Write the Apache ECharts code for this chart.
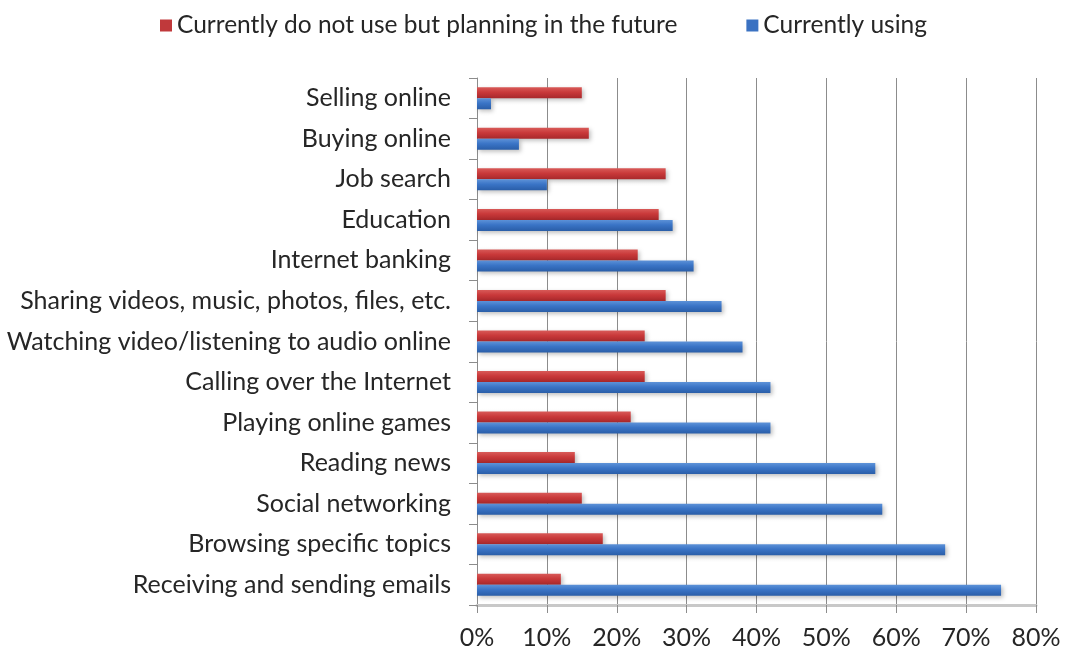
<!DOCTYPE html>
<html>
<head>
<meta charset="utf-8">
<script src="https://cdn.jsdelivr.net/npm/echarts@6/dist/echarts.min.js"></script>
<style>
  html, body { margin: 0; padding: 0; background: #ffffff; }
  #chart { width: 1069px; height: 660px; }
</style>
</head>
<body>
<div id="chart"></div>
<script>
// Internet activities, listed top to bottom
const categories = [
  'Selling online',
  'Buying online',
  'Job search',
  'Education',
  'Internet banking',
  'Sharing videos, music, photos, files, etc.',
  'Watching video/listening to audio online',
  'Calling over the Internet',
  'Playing online games',
  'Reading news',
  'Social networking',
  'Browsing specific topics',
  'Receiving and sending emails'
];

// Share of respondents, %
const planningValues = [15, 16, 27, 26, 23, 27, 24, 24, 22, 14, 15, 18, 12];
const usingValues    = [2, 6, 10, 28, 31, 35, 38, 42, 42, 57, 58, 67, 75];

const seriesNames = ['Currently do not use but planning in the future', 'Currently using'];
const xTicks = { min: 0, max: 80, interval: 10 };

const FONT = 'Lato';

const redFill = new echarts.graphic.LinearGradient(0, 0, 0, 1, [
  { offset: 0, color: '#d85a58' },
  { offset: 0.45, color: '#c9393a' },
  { offset: 1, color: '#a8282b' }
]);
const blueFill = new echarts.graphic.LinearGradient(0, 0, 0, 1, [
  { offset: 0, color: '#5d92d8' },
  { offset: 0.45, color: '#3a74c6' },
  { offset: 1, color: '#2a5ea8' }
]);

const chart = echarts.init(document.getElementById('chart'), null, { renderer: 'canvas' });

chart.setOption({
  animation: false,
  backgroundColor: '#ffffff',
  legend: {
    data: [
      { name: seriesNames[0], itemStyle: { color: '#c0393b' } },
      { name: seriesNames[1], itemStyle: { color: '#3b72c2' } }
    ],
    top: 8,
    left: 155,
    itemWidth: 12,
    itemHeight: 12,
    itemGap: 69,
    icon: 'rect',
    textStyle: { fontFamily: FONT, fontSize: 24.5, color: '#262626' }
  },
  grid: { left: 477, right: 33, top: 78, bottom: 55, containLabel: false },
  xAxis: {
    type: 'value',
    min: xTicks.min,
    max: xTicks.max,
    interval: xTicks.interval,
    axisLine: { show: true, lineStyle: { color: '#c8c8c8', width: 3 } },
    axisTick: { show: true, length: 8, lineStyle: { color: '#8c8c8c' } },
    splitLine: { show: true, lineStyle: { color: '#8c8c8c', width: 1 } },
    axisLabel: {
      formatter: '{value}%',
      margin: 20,
      fontFamily: FONT, fontSize: 25, color: '#262626'
    }
  },
  yAxis: {
    type: 'category',
    data: categories,
    inverse: true,
    axisLine: { show: true, lineStyle: { color: '#8c8c8c' } },
    axisTick: { show: true, length: 8, lineStyle: { color: '#8c8c8c' } },
    axisLabel: {
      margin: 26,
      fontFamily: FONT, fontSize: 25, color: '#262626'
    }
  },
  series: [
    {
      name: seriesNames[0],
      type: 'bar',
      data: planningValues,
      barWidth: 11,
      barGap: '0%',
      itemStyle: {
        color: redFill,
        shadowColor: 'rgba(0,0,0,0.25)', shadowBlur: 4, shadowOffsetX: 2, shadowOffsetY: 2
      }
    },
    {
      name: seriesNames[1],
      type: 'bar',
      data: usingValues,
      barWidth: 11,
      barGap: '0%',
      itemStyle: {
        color: blueFill,
        shadowColor: 'rgba(0,0,0,0.25)', shadowBlur: 4, shadowOffsetX: 2, shadowOffsetY: 2
      }
    }
  ]
});
</script>
</body>
</html>
